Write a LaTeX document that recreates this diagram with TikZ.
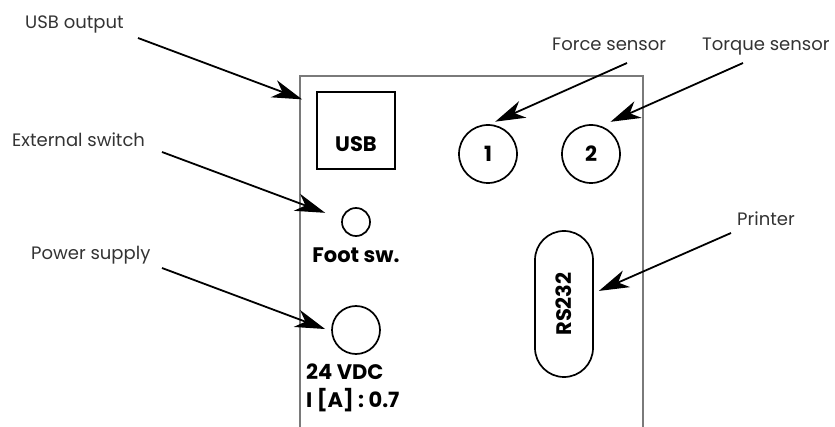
\documentclass[tikz,border=0pt]{standalone}
\usepackage{fontspec}
\setmainfont{Poppins}
\usetikzlibrary{arrows.meta}
\definecolor{colorPanel}{HTML}{7A7A7A}
\definecolor{colorTexto}{HTML}{333333}

\begin{document}
\begin{tikzpicture}[x=1pt, y=-1pt,
    lbl/.style={anchor=base west, inner sep=0pt, text=colorTexto, font=\fontsize{18}{20}\selectfont},
    tag/.style={inner sep=0pt, font=\fontsize{21}{24}\selectfont\bfseries},
    s/.style={draw, line width=1.7pt, inner sep=0pt},
    port/.style={s, circle, tag},
    rel/.style={-{Stealth[length=30pt, width=18pt, inset=9pt]}, line width=1.8pt},
    panel/.style={draw=colorPanel, line width=1.4pt}
  ]
  \useasboundingbox (0,0) rectangle (835,427);
  % panel outline
  \draw[panel] (300,427) |- (643,76) -- (643,427);
  % connectors on the panel
  \node[s, minimum width=78pt, minimum height=77pt] (usb) at (356,130.5) {};
  \node[tag, anchor=base] (usbTxt) at (356,152) {USB};
  \node[port, minimum size=58pt] (f1) at (488,154) {1};
  \node[port, minimum size=58pt] (f2) at (591,154) {2};
  \node[s, circle, minimum size=28pt] (foot) at (356,222) {};
  \node[tag, anchor=base] (footTxt) at (356,263) {Foot sw.};
  \node[s, circle, minimum size=48pt] (pwr) at (356,330) {};
  \node[tag, anchor=base west] (pwrV) at (306,380) {24 VDC};
  \node[tag, anchor=base west] (pwrI) at (306,407) {I [A] : 0.7};
  \node[s, tag, rotate=90, rounded corners=29pt, minimum width=146pt, minimum height=58pt] (rs) at (564,304) {RS232};
  % labels
  \node[lbl] (lUsb) at (25,29) {USB output};
  \node[lbl] (lFoot) at (12,147) {External switch};
  \node[lbl] (lPwr) at (31,260) {Power supply};
  \node[lbl] (lF1) at (552,51) {Force sensor};
  \node[lbl] (lF2) at (702,51) {Torque sensor};
  \node[lbl] (lRs) at (737,226) {Printer};
  % arrows
  \coordinate (tUsb) at (138,38);
  \coordinate (tFoot) at (162,152);
  \coordinate (tPwr) at (162,268);
  \coordinate (tF1) at (627,63);
  \coordinate (tF2) at (743,63);
  \coordinate (tRs) at (731,233);
  \draw[rel, shorten >=15pt] (tUsb) -- (usb.147);
  \draw[rel, shorten >=17.4pt] (tFoot) -- (foot.168);
  \draw[rel, shorten >=6.5pt] (tPwr) -- (pwr.183);
  \draw[rel, shorten >=6.2pt] (tF1) -- (f1.87);
  \draw[rel, shorten >=10.2pt] (tF2) -- (f2.70);
  \draw[rel, shorten >=5.5pt] (tRs) -- (rs.290);
\end{tikzpicture}
\end{document}
